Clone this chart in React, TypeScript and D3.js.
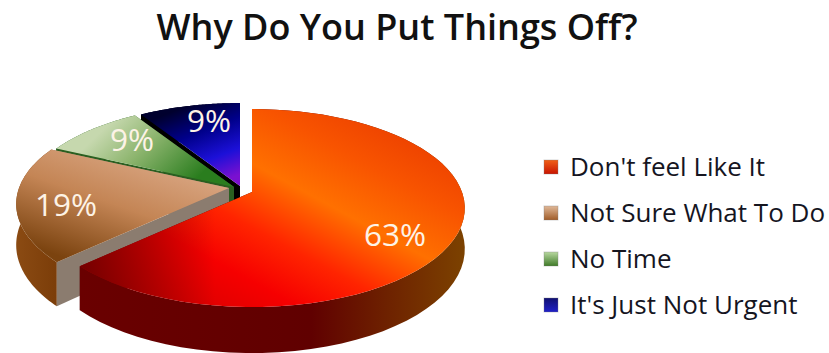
import React from "react";
import * as d3 from "d3";

const title = "Why Do You Put Things Off?";
const categories = ["Don't feel Like It", "Not Sure What To Do", "No Time", "It's Just Not Urgent"];
const shares = [63, 19, 9, 9];
const percentLabels = ["63%", "19%", "9%", "9%"];

// Layout of the tilted disc, in pixels.
const radius = 210;
const tiltScale = 96.4;
const perspective = 0.162;
const apexes: [number, number][] = [[252, 192], [229, 188], [234, 187], [240, 186]];
const labelSpots: [number, number][] = [[395, 235], [66, 205], [132, 140], [209, 121]];
const legendRows = [167, 213, 259, 305];

const wallFills = ["url(#wallRed)", "url(#wallBrown)", "#1f5a18", "#000022"];
const faceFills = ["url(#faceRed)", "url(#faceBrown)", "url(#faceGreen)", "url(#faceBlue)"];
const cutFills = ["#4a0000", "#8b7c6f", "#2a5f20", "#000000"];
const swatchFills = ["url(#swRed)", "url(#swBrown)", "url(#swGreen)", "url(#swBlue)"];

// Projects a point on the unit disc (angle clockwise from twelve o'clock) to the page.
function project(apex: [number, number], angle: number, r: number, drop: number): [number, number] {
  const u = Math.sin(angle) * r;
  const v = Math.cos(angle) * r;
  const w = 1 + perspective * v;
  const depth = drop * (40 - 6 * v);
  return [apex[0] + (radius * u) / w, apex[1] - (tiltScale * v) / w + depth];
}

const line = d3.line();

function arcPoints(apex: [number, number], a0: number, a1: number, drop: number) {
  return d3.range(0, 61).map((i) => project(apex, a0 + ((a1 - a0) * i) / 60, 1, drop));
}

function Grad({ id, x1, y1, x2, y2, stops }: { id: string; x1: number; y1: number; x2: number; y2: number; stops: [number, string][] }) {
  return (
    <linearGradient id={id} gradientUnits="userSpaceOnUse" x1={x1} y1={y1} x2={x2} y2={y2}>
      {stops.map(([o, c]) => <stop key={o} offset={o} stopColor={c} />)}
    </linearGradient>
  );
}

export default function App() {
  const arcs = d3.pie<number>().sort(null).value((d) => d)(shares);
  const order = [3, 2, 1, 0];
  return (
    <svg width={829} height={353} style={{ position: "fixed", left: 0, top: 0, background: "#fff" }}>
      <defs>
        <Grad id="faceRed" x1={380} y1={100} x2={230} y2={377} stops={[[0, "#ea3c00"], [0.2, "#f85400"], [0.37, "#ff7000"], [0.55, "#ff2400"], [0.7, "#f60000"], [1, "#c80000"]]} />
        <linearGradient id="faceRedShade" gradientUnits="userSpaceOnUse" x1={80} y1={0} x2={215} y2={0}>
          <stop offset={0} stopColor="#400000" stopOpacity={0.65} />
          <stop offset={1} stopColor="#400000" stopOpacity={0} />
        </linearGradient>
        <Grad id="wallRed" x1={80} y1={0} x2={465} y2={0} stops={[[0, "#6a0000"], [0.6, "#600000"], [0.8, "#6e2200"], [1, "#7c4200"]]} />
        <Grad id="faceBrown" x1={125} y1={150} x2={85} y2={265} stops={[[0, "#d8a480"], [0.45, "#c48555"], [1, "#7b430f"]]} />
        <Grad id="wallBrown" x1={18} y1={0} x2={60} y2={0} stops={[[0, "#8a4a12"], [1, "#7a3c08"]]} />
        <Grad id="faceGreen" x1={115} y1={118} x2={185} y2={190} stops={[[0, "#c6d8ae"], [0.4, "#8fb670"], [1, "#2a7d1e"]]} />
        <Grad id="faceBlue" x1={195} y1={103} x2={225} y2={180} stops={[[0, "#00002e"], [0.35, "#00008a"], [0.7, "#1c10d8"], [1, "#7a10d0"]]} />
        <Grad id="swRed" x1={0} y1={160} x2={0} y2={174} stops={[[0, "#f06018"], [1, "#c81400"]]} />
        <Grad id="swBrown" x1={0} y1={206} x2={0} y2={220} stops={[[0, "#e0b898"], [1, "#a05c28"]]} />
        <Grad id="swGreen" x1={0} y1={252} x2={0} y2={266} stops={[[0, "#b8d8a0"], [1, "#3f7a28"]]} />
        <Grad id="swBlue" x1={0} y1={298} x2={0} y2={312} stops={[[0, "#101070"], [1, "#2020c8"]]} />
      </defs>

      <text x={397} y={40} textAnchor="middle" fontFamily="Open Sans" fontWeight={600} fontSize={36} fill="#111">{title}</text>

      {order.map((i) => {
        const a = arcs[i];
        const apex = apexes[i];
        const top = arcPoints(apex, a.startAngle, a.endAngle, 0);
        const bottom = arcPoints(apex, a.startAngle, a.endAngle, 1);
        const apexLow = project(apex, 0, 0, 1);
        const wall = [...top, ...bottom.slice().reverse()];
        const cutStart = [apex, top[0], bottom[0], apexLow] as [number, number][];
        const cutEnd = [apex, top[60], bottom[60], apexLow] as [number, number][];
        const face = [apex, ...top];
        return (
          <g key={categories[i]}>
            <path d={line(cutEnd) + "Z"} fill={cutFills[i]} />
            <path d={line(wall) + "Z"} fill={wallFills[i]} />
            <path d={line(cutStart) + "Z"} fill={cutFills[i]} />
            <path d={line(face) + "Z"} fill={faceFills[i]} />
            {i === 0 && <path d={line(face) + "Z"} fill="url(#faceRedShade)" />}
          </g>
        );
      })}

      {percentLabels.map((t, i) => (
        <text key={i} x={labelSpots[i][0]} y={labelSpots[i][1]} dy="0.35em" textAnchor="middle" fontFamily="Open Sans" fontSize={31.5} fill="#fdf3e6">{t}</text>
      ))}

      {categories.map((c, i) => (
        <g key={c}>
          <rect x={544} y={legendRows[i] - 7} width={14} height={14} fill={swatchFills[i]} stroke="#7f7f7f" strokeOpacity={0.35} />
          <text x={570} y={legendRows[i]} dy="0.35em" fontFamily="Open Sans" fontSize={26} fill="#15151f">{c}</text>
        </g>
      ))}
    </svg>
  );
}
